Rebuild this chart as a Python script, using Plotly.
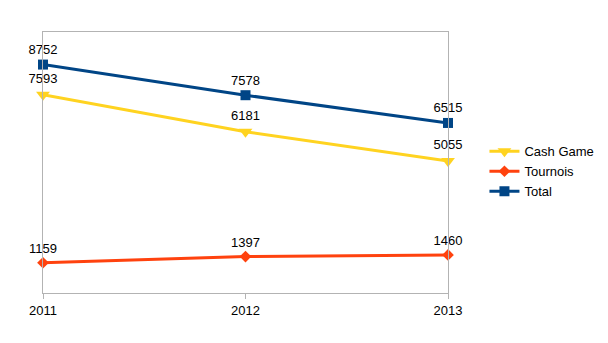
import plotly.graph_objects as go

years = [2011, 2012, 2013]
cash_game = [7593, 6181, 5055]
tournois = [1159, 1397, 1460]
total = [8752, 7578, 6515]

font = "Liberation Sans, Arial, sans-serif"

fig = go.Figure()
fig.add_trace(go.Scatter(
    x=years, y=cash_game, name="Cash Game", mode="lines+markers+text",
    text=[str(v) for v in cash_game], textposition="top center",
    line=dict(color="#ffd320", width=3),
    marker=dict(symbol="triangle-down", size=12, color="#ffd320"),
    textfont=dict(family=font, size=13, color="#000000"),
    cliponaxis=False,
))
fig.add_trace(go.Scatter(
    x=years, y=tournois, name="Tournois", mode="lines+markers+text",
    text=[str(v) for v in tournois], textposition="top center",
    line=dict(color="#ff420e", width=3),
    marker=dict(symbol="diamond", size=9, color="#ff420e"),
    textfont=dict(family=font, size=13, color="#000000"),
    cliponaxis=False,
))
fig.add_trace(go.Scatter(
    x=years, y=total, name="Total", mode="lines+markers+text",
    text=[str(v) for v in total], textposition="top center",
    line=dict(color="#004586", width=3),
    marker=dict(symbol="square", size=10, color="#004586"),
    textfont=dict(family=font, size=13, color="#000000"),
    cliponaxis=False,
))

fig.update_layout(
    width=608, height=343,
    margin=dict(l=43, r=160, t=32, b=50, autoexpand=False),
    paper_bgcolor="#ffffff", plot_bgcolor="#ffffff",
    font=dict(family=font, size=13, color="#000000"),
    showlegend=True,
    legend=dict(x=1.09, xanchor="left", y=0.6, yanchor="top",
                font=dict(family=font, size=13, color="#000000"),
                itemwidth=30, tracegroupgap=0, bgcolor="rgba(0,0,0,0)"),
    xaxis=dict(range=[2011, 2013], tickvals=years, ticktext=[str(y) for y in years],
               showgrid=False, zeroline=False, showline=True, mirror=True,
               linecolor="#b3b3b3", linewidth=1, ticks="outside", ticklen=5,
               tickcolor="#b3b3b3", automargin=False),
    yaxis=dict(range=[0, 10000], showgrid=False, zeroline=False, showline=True,
               mirror=True, linecolor="#b3b3b3", linewidth=1, showticklabels=False,
               ticks="", automargin=False),
)

fig.write_html("out.html")
